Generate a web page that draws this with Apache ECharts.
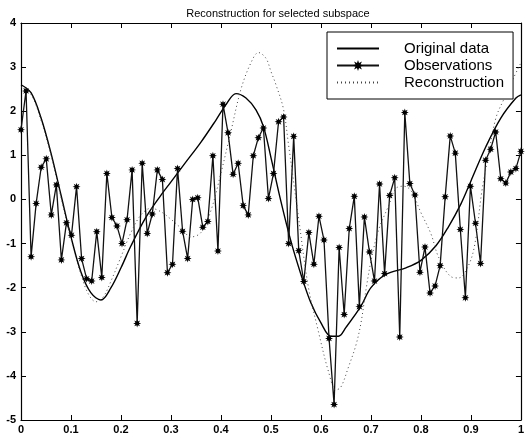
<!DOCTYPE html>
<html><head><meta charset="utf-8">
<script src="https://cdn.jsdelivr.net/npm/echarts@6/dist/echarts.min.js"></script>
<style>html,body{margin:0;padding:0;background:#fff}#c{width:527px;height:438px}</style>
</head><body><div id="c"></div>
<script>
// Observations (100 samples, evenly spaced on [0,1])
const obsY = [1.58, 2.46, -1.30, -0.09, 0.73, 0.92, -0.35, 0.33, -1.37, -0.53,
  -0.81, 0.29, -1.34, -1.80, -1.85, -0.73, -1.77, 0.59, -0.41, -0.60,
  -1.00, -0.46, 0.67, -2.81, 0.82, -0.77, -0.33, 0.67, 0.45, -1.66,
  -1.47, 0.70, -0.72, -1.34, 0.00, 0.04, -0.63, -0.50, 0.99, -1.17,
  2.16, 1.51, 0.57, 0.82, -0.14, -0.35, 0.99, 1.40, 1.62, 0.02,
  0.59, 1.76, 1.87, -1.00, 1.43, -1.16, -1.86, -0.75, -1.47, -0.38,
  -0.92, -3.15, -4.65, -1.09, -2.61, -0.66, 0.07, -2.43, -0.40, -1.19,
  -1.85, 0.35, -1.68, 0.09, 0.49, -3.12, 1.97, 0.36, 0.10, -1.65,
  -1.08, -2.12, -1.96, -1.50, 0.06, 1.44, 1.05, -0.68, -2.23, 0.30,
  -0.54, -1.45, 0.89, 1.14, 1.53, 0.47, 0.37, 0.62, 0.70, 1.09];

// Original data (smooth curve)
const origX = [0, 0.02, 0.04, 0.06, 0.08, 0.10, 0.12, 0.14, 0.16, 0.18, 0.20, 0.22, 0.25, 0.28, 0.30, 0.33, 0.36, 0.39, 0.41, 0.43, 0.45, 0.47, 0.485, 0.50, 0.52, 0.54, 0.56, 0.58, 0.60, 0.62, 0.635, 0.65, 0.68, 0.70, 0.73, 0.77, 0.80, 0.83, 0.855, 0.88, 0.90, 0.93, 0.96, 0.99, 1.0];
const origY = [2.60, 2.42, 1.85, 1.05, 0.10, -0.85, -1.65, -2.12, -2.28, -2.00, -1.55, -1.05, -0.40, 0.10, 0.40, 0.85, 1.30, 1.80, 2.15, 2.40, 2.30, 2.03, 1.65, 0.95, -0.05, -0.95, -1.70, -2.35, -2.80, -3.10, -3.10, -2.90, -2.42, -2.00, -1.70, -1.55, -1.38, -1.05, -0.62, -0.10, 0.42, 1.20, 1.85, 2.30, 2.37];

// Reconstruction (dotted curve)
const recX = [0, 0.02, 0.04, 0.06, 0.08, 0.10, 0.12, 0.135, 0.15, 0.165, 0.18, 0.20, 0.22, 0.24, 0.26, 0.28, 0.30, 0.32, 0.34, 0.36, 0.38, 0.40, 0.42, 0.44, 0.46, 0.475, 0.49, 0.50, 0.51, 0.525, 0.535, 0.555, 0.575, 0.595, 0.615, 0.63, 0.64, 0.655, 0.67, 0.68, 0.69, 0.70, 0.715, 0.735, 0.75, 0.765, 0.78, 0.80, 0.82, 0.835, 0.86, 0.875, 0.895, 0.908, 0.922, 0.935, 0.95, 0.967, 0.985, 1.0];
const recY = [2.55, 2.38, 1.80, 1.00, 0.05, -0.90, -1.70, -2.15, -2.32, -2.20, -1.85, -1.30, -0.75, -0.35, -0.20, -0.28, -0.45, -0.65, -0.85, -0.75, -0.25, 0.60, 1.55, 2.50, 3.10, 3.33, 3.20, 2.90, 2.60, 2.05, 1.25, -0.40, -2.00, -3.00, -3.90, -4.32, -4.25, -3.80, -3.30, -2.80, -2.05, -1.40, -0.70, -0.15, 0.25, 0.30, 0.20, -0.30, -0.78, -1.30, -1.75, -1.78, -1.50, -1.00, 0.20, 1.00, 1.85, 2.30, 2.75, 3.10];

const xTicks = [0, 0.1, 0.2, 0.3, 0.4, 0.5, 0.6, 0.7, 0.8, 0.9, 1];
const yTicks = [-5, -4, -3, -2, -1, 0, 1, 2, 3, 4];

// asterisk-like marker shape
function starPath() {
  let p = '';
  for (let k = 0; k < 16; k++) {
    const a = k * Math.PI / 8;
    const r = (k % 2 === 0) ? 50 : 24;
    const x = (50 + r * Math.cos(a)).toFixed(2), y = (50 + r * Math.sin(a)).toFixed(2);
    p += (k === 0 ? 'M' : 'L') + x + ' ' + y + ' ';
  }
  return 'path://' + p + 'Z';
}

const N = obsY.length;
const obsData = obsY.map((v, i) => [i / (N - 1), v]);
const origData = origX.map((x, i) => [x, origY[i]]);
const recData = recX.map((x, i) => [x, recY[i]]);

const font = 'Liberation Sans, Arial, Helvetica, sans-serif';
const axBase = {
  type: 'value', splitLine: { show: false },
  axisLine: { show: true, onZero: false, lineStyle: { color: '#000', width: 1.2 } },
  axisTick: { show: true, inside: true, length: 5, lineStyle: { color: '#000' } },
};
const xFmt = v => { const t = xTicks.find(q => Math.abs(q - v) < 1e-9); return t === undefined ? '' : String(t); };
const yFmt = v => { const t = yTicks.find(q => Math.abs(q - v) < 1e-9); return t === undefined ? '' : String(t); };

const chart = echarts.init(document.getElementById('c'), null, { renderer: 'canvas' });
chart.setOption({
  animation: false,
  backgroundColor: '#fff',
  title: {
    text: 'Reconstruction for selected subspace', left: 273, top: 3, textAlign: 'center',
    textStyle: { fontSize: 11, fontWeight: 'normal', color: '#000', fontFamily: font }
  },
  grid: { left: 21, right: 4, top: 23, bottom: 18, containLabel: false },
  legend: {
    orient: 'vertical', left: 327, top: 32, align: 'left',
    padding: [9, 9, 9, 9], itemGap: 2, itemWidth: 42, itemHeight: 14,
    borderColor: '#000', borderWidth: 1, backgroundColor: '#fff',
    textStyle: { fontSize: 15, color: '#000', fontFamily: font, padding: [0, 0, 0, 20] },
    data: ['Original data', 'Observations', 'Reconstruction']
  },
  xAxis: [
    Object.assign({}, axBase, { min: 0, max: 1, interval: 0.1, position: 'bottom',
      axisLabel: { color: '#000', fontSize: 11, fontWeight: 'bold', fontFamily: font, margin: 4, formatter: xFmt } }),
    Object.assign({}, axBase, { min: 0, max: 1, interval: 0.1, position: 'top', axisLabel: { show: false } })
  ],
  yAxis: [
    Object.assign({}, axBase, { min: -5, max: 4, interval: 1, position: 'left',
      axisLabel: { color: '#000', fontSize: 11, fontWeight: 'bold', fontFamily: font, margin: 5, formatter: yFmt } }),
    Object.assign({}, axBase, { min: -5, max: 4, interval: 1, position: 'right', axisLabel: { show: false } })
  ],
  series: [
    { name: 'Original data', type: 'line', data: origData, smooth: 0.35, symbol: 'none',
      lineStyle: { color: '#000', width: 1.4 }, itemStyle: { color: 'rgba(0,0,0,0)' } },
    { name: 'Observations', type: 'line', data: obsData, symbol: starPath(), symbolSize: 8,
      showAllSymbol: true,
      lineStyle: { color: '#111', width: 1.3 }, itemStyle: { color: '#000' } },
    { name: 'Reconstruction', type: 'line', data: recData, smooth: 0.35, symbol: 'none',
      lineStyle: { color: '#444', width: 1, type: [1, 3] }, itemStyle: { color: 'rgba(0,0,0,0)' } }
  ]
});
</script></body></html>
